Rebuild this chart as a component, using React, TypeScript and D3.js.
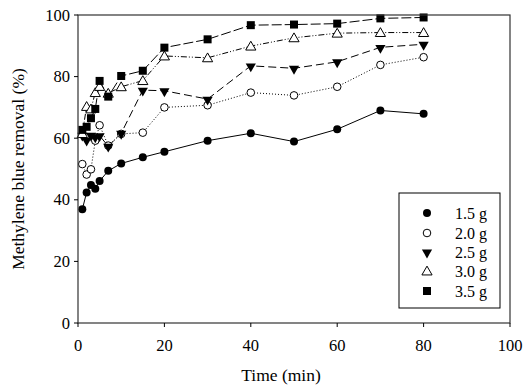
import React from 'react';
import * as d3 from 'd3';

const times = [1, 2, 3, 4, 5, 7, 10, 15, 20, 30, 40, 50, 60, 70, 80];
const s15 = [36.9, 42.4, 44.8, 43.6, 46.1, 49.4, 51.8, 53.8, 55.6, 59.2, 61.6, 58.9, 62.9, 69.0, 67.9];
const s20 = [51.6, 48.2, 49.9, 59.2, 64.2, 57.6, 61.4, 61.8, 70.0, 70.7, 74.8, 73.9, 76.7, 83.8, 86.3];
const s25 = [61.0, 59.4, 61.0, 60.4, 60.8, 57.4, 61.6, 75.6, 75.4, 72.7, 83.5, 82.7, 84.8, 89.5, 90.5];
const s30 = [61.5, 70.3, 69.5, 74.8, 76.8, 74.6, 76.7, 78.7, 86.7, 86.1, 89.9, 92.6, 94.1, 94.3, 94.3];
const s35 = [62.7, 63.7, 66.5, 69.5, 78.6, 73.5, 80.2, 81.9, 89.4, 92.1, 96.7, 96.9, 97.2, 98.9, 99.2];
const seriesNames = ['1.5 g', '2.0 g', '2.5 g', '3.0 g', '3.5 g'];
const xTicks = [0, 20, 40, 60, 80, 100];
const yTicks = [0, 20, 40, 60, 80, 100];

const styles = [
  { marker: 'circleFilled', dash: 'none' },
  { marker: 'circleOpen', dash: '1,2' },
  { marker: 'triDown', dash: '8,4' },
  { marker: 'triUp', dash: '6,2,1,2,1,2' },
  { marker: 'square', dash: '10,3' },
];

const font = "'Liberation Serif', 'Times New Roman', Times, serif";

function Marker({ type, x, y }: { type: string; x: number; y: number }) {
  if (type === 'circleFilled') return <circle cx={x} cy={y} r={4} fill="#000" />;
  if (type === 'circleOpen') return <circle cx={x} cy={y} r={3.8} fill="#fff" stroke="#000" strokeWidth={1} />;
  if (type === 'square') return <rect x={x - 4} y={y - 4} width={8} height={8} fill="#000" />;
  const sym = d3.symbol().type(d3.symbolTriangle).size(45)();
  if (type === 'triDown')
    return <path d={sym as string} transform={`translate(${x},${y + 0.5}) rotate(180)`} fill="#000" />;
  return <path d={sym as string} transform={`translate(${x},${y + 1})`} fill="#fff" stroke="#000" strokeWidth={1} />;
}

export default function App() {
  const W = 527, H = 390;
  const left = 78, right = 510, top = 15, bottom = 323;
  const x = d3.scaleLinear().domain([0, 100]).range([left, right]);
  const y = d3.scaleLinear().domain([0, 100]).range([bottom, top]);
  const all = [s15, s20, s25, s30, s35];
  const line = d3.line<[number, number]>().x(d => x(d[0])).y(d => y(d[1]));
  const legX = 399, legY = 193, legW = 101, legH = 115;
  const legRows = [213, 233, 252, 271, 291];
  const fs = 16.5;
  const ft = 17.5;
  return (
    <svg width={W} height={H} style={{ position: 'absolute', left: 0, top: 0, background: '#fff', fontFamily: font }}>
      <rect x={0} y={0} width={W} height={H} fill="#fff" />
      {all.map((vals, i) => (
        <path key={'l' + i} d={line(times.map((t, j) => [t, vals[j]]) as [number, number][]) || ''}
          fill="none" stroke="#000" strokeWidth={1} strokeDasharray={styles[i].dash} />
      ))}
      {all.map((vals, i) => (
        <g key={'m' + i}>
          {times.map((t, j) => <Marker key={j} type={styles[i].marker} x={x(t)} y={y(vals[j])} />)}
        </g>
      ))}
      <rect x={left} y={top} width={right - left} height={bottom - top} fill="none" stroke="#333" strokeWidth={1.2} />
      {xTicks.map(t => (
        <g key={'x' + t}>
          <line x1={x(t)} x2={x(t)} y1={bottom} y2={bottom + 4} stroke="#000" />
          <text x={x(t)} y={bottom + 28} textAnchor="middle" fontSize={fs} style={{ fontFamily: font }}>{t}</text>
        </g>
      ))}
      {yTicks.map(t => (
        <g key={'y' + t}>
          <line x1={left - 4} x2={left} y1={y(t)} y2={y(t)} stroke="#000" />
          <text x={left - 8} y={y(t) + 5.5} textAnchor="end" fontSize={fs} style={{ fontFamily: font }}>{t}</text>
        </g>
      ))}
      <text x={281} y={381} textAnchor="middle" fontSize={ft} style={{ fontFamily: font }}>Time (min)</text>
      <text transform={`translate(24,169) rotate(-90)`} textAnchor="middle" fontSize={ft} style={{ fontFamily: font }}>
        Methylene blue removal (%)
      </text>
      <rect x={legX} y={legY} width={legW} height={legH} fill="#fff" stroke="#000" strokeWidth={1} />
      {seriesNames.map((n, i) => (
        <g key={'g' + i}>
          <Marker type={styles[i].marker} x={427} y={legRows[i]} />
          <text x={455} y={legRows[i] + 5.5} fontSize={16} style={{ fontFamily: font }}>{n}</text>
        </g>
      ))}
    </svg>
  );
}
